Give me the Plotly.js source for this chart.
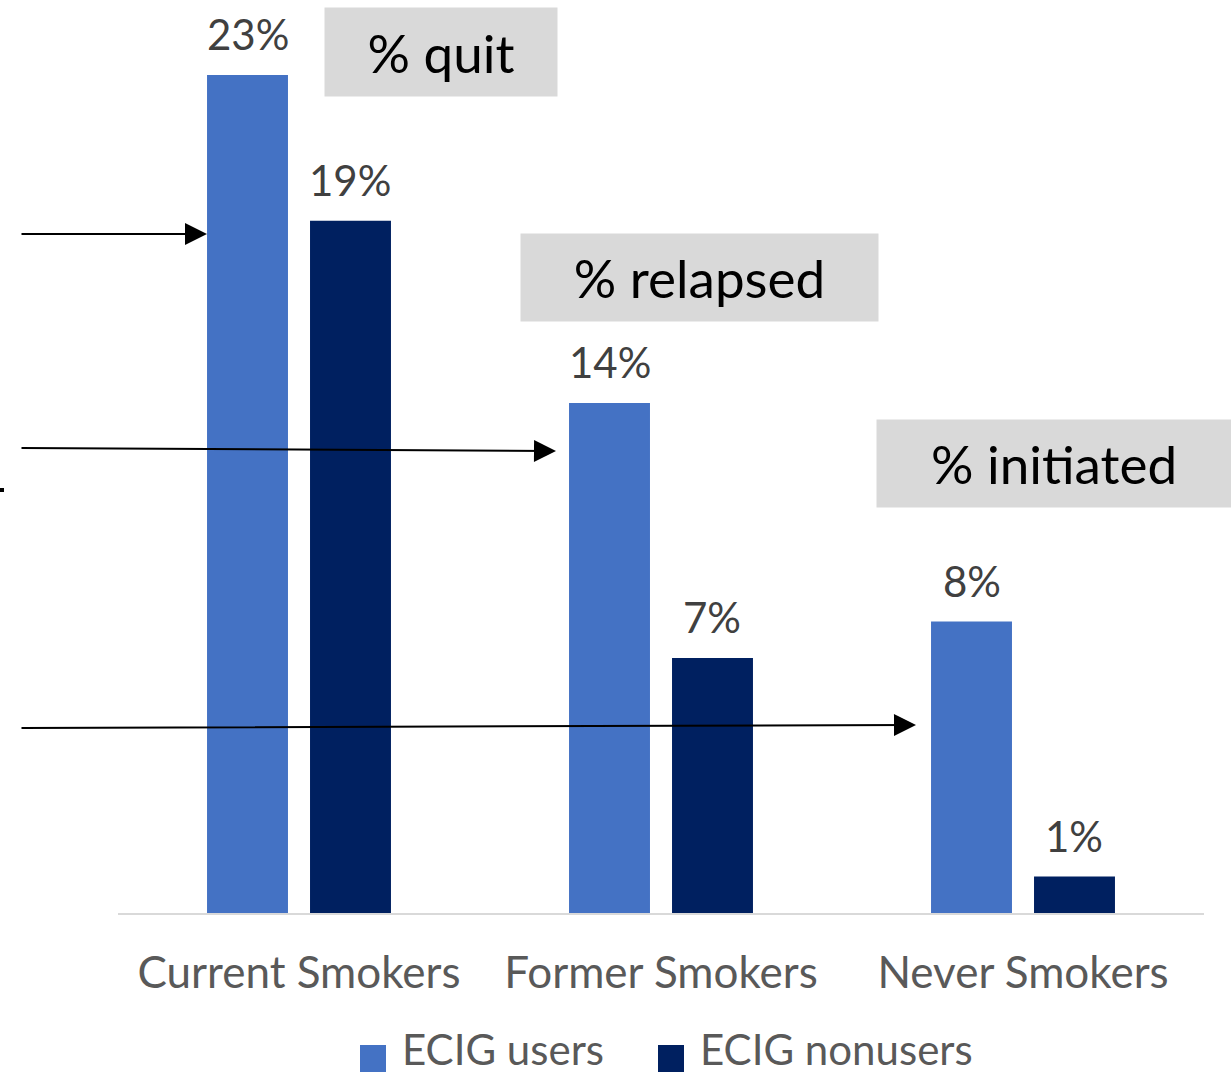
<!DOCTYPE html>
<html>
<head>
<meta charset="utf-8">
<script src="https://cdn.plot.ly/plotly-3.0.1.min.js"></script>
<style>
  html, body { margin: 0; padding: 0; background: #ffffff; }
  #chart { width: 1231px; height: 1075px; }
</style>
</head>
<body>
<div id="chart"></div>
<script>
// Smoking status groups and the share of each group that changed behaviour
const categories = ['Current Smokers', 'Former Smokers', 'Never Smokers'];
const seriesNames = ['ECIG users', 'ECIG nonusers'];
const ecigUsers = [23, 14, 8];
const ecigNonusers = [19, 7, 1];
const calloutLabels = ['% quit', '% relapsed', '% initiated'];

const colors = ['#4472C4', '#002060'];
const FONT = 'Lato, "Open Sans", sans-serif';

// page geometry (pixels)
const W = 1231, H = 1075;
const M = { l: 118, r: 27, t: 20, b: 162 };
const plotW = W - M.l - M.r;
const plotH = H - M.t - M.b;
const baseY = H - M.b;
const pxPerUnit = 36.43;
const px = x => (x - M.l) / plotW;          // page x -> paper x
const py = y => (baseY - y) / plotH;        // page y -> paper y

// bar layout: gap between groups and between bars in a group
const BARGAP = 0.431, GROUPGAP = 0.214;
const slot = (1 - BARGAP) / 2;               // category units per bar slot

const series = [ecigUsers, ecigNonusers];
const traces = series.map((vals, i) => ({
  type: 'bar',
  name: seriesNames[i],
  x: categories,
  y: vals,
  marker: { color: colors[i] },
  showlegend: false,
  hoverinfo: 'skip'
}));

const annotations = [];

// value labels above each bar
series.forEach((vals, s) => {
  const offset = (s - 0.5) * slot;
  vals.forEach((v, c) => annotations.push({
    xref: 'x', yref: 'y',
    x: c + offset, y: v,
    xanchor: 'center', yanchor: 'bottom',
    yshift: 14,
    text: v + '%',
    showarrow: false,
    font: { family: FONT, size: 42, color: '#404040' }
  }));
});

// grey callout boxes
const boxes = [
  { cx: 441, cy: 52, w: 232, h: 88 },
  { cx: 699.5, cy: 277.5, w: 357, h: 87 },
  { cx: 1054, cy: 463.5, w: 354, h: 87 }
];
boxes.forEach((b, i) => annotations.push({
  xref: 'paper', yref: 'paper',
  x: px(b.cx), y: py(b.cy),
  xanchor: 'center', yanchor: 'middle',
  width: b.w, height: b.h, borderpad: 0,
  bgcolor: '#d9d9d9',
  text: calloutLabels[i],
  showarrow: false,
  font: { family: FONT, size: 53, color: '#000000' }
}));

// arrows from the left margin to each ECIG-user bar
const arrows = [
  { hx: 207, hy: 234, tx: 20, ty: 234 },
  { hx: 556, hy: 451, tx: 20, ty: 448 },
  { hx: 916, hy: 725, tx: 20, ty: 728 }
];
arrows.forEach(a => annotations.push({
  xref: 'paper', yref: 'paper',
  x: px(a.hx), y: py(a.hy),
  axref: 'pixel', ayref: 'pixel',
  ax: a.tx - a.hx, ay: a.ty - a.hy,
  text: '',
  showarrow: true,
  arrowhead: 2, arrowsize: 2.2, arrowwidth: 2,
  arrowcolor: '#000000', standoff: 0
}));

// legend entries (large square swatches)
const legendItems = [
  { sx: 360, tx: 400 },
  { sx: 658, tx: 698 }
];
const shapes = [];
legendItems.forEach((it, i) => {
  shapes.push({
    type: 'rect', xref: 'paper', yref: 'paper',
    x0: px(it.sx), x1: px(it.sx + 26),
    y0: py(1072), y1: py(1045),
    fillcolor: colors[i], line: { width: 0 }
  });
  annotations.push({
    xref: 'paper', yref: 'paper',
    x: px(it.tx), y: py(1076),
    xanchor: 'left', yanchor: 'bottom',
    text: seriesNames[i], showarrow: false,
    font: { family: FONT, size: 42, color: '#595959' }
  });
});
// small mark at the left edge
shapes.push({
  type: 'rect', xref: 'paper', yref: 'paper',
  x0: px(0), x1: px(4), y0: py(492), y1: py(488),
  fillcolor: '#000000', line: { width: 0 }
});

const layout = {
  width: W, height: H,
  margin: M,
  paper_bgcolor: '#ffffff', plot_bgcolor: '#ffffff',
  barmode: 'group',
  bargap: BARGAP,
  bargroupgap: GROUPGAP,
  showlegend: false,
  font: { family: FONT },
  xaxis: {
    type: 'category',
    showline: true, linecolor: '#d9d9d9', linewidth: 2,
    ticks: '', showgrid: false, zeroline: false,
    tickfont: { family: FONT, size: 44, color: '#595959' },
    ticklabelstandoff: 20
  },
  yaxis: {
    visible: false,
    range: [0, plotH / pxPerUnit],
    showgrid: false, zeroline: false
  },
  annotations: annotations,
  shapes: shapes
};

Plotly.newPlot('chart', traces, layout, { displayModeBar: false, staticPlot: true });
</script>
</body>
</html>
